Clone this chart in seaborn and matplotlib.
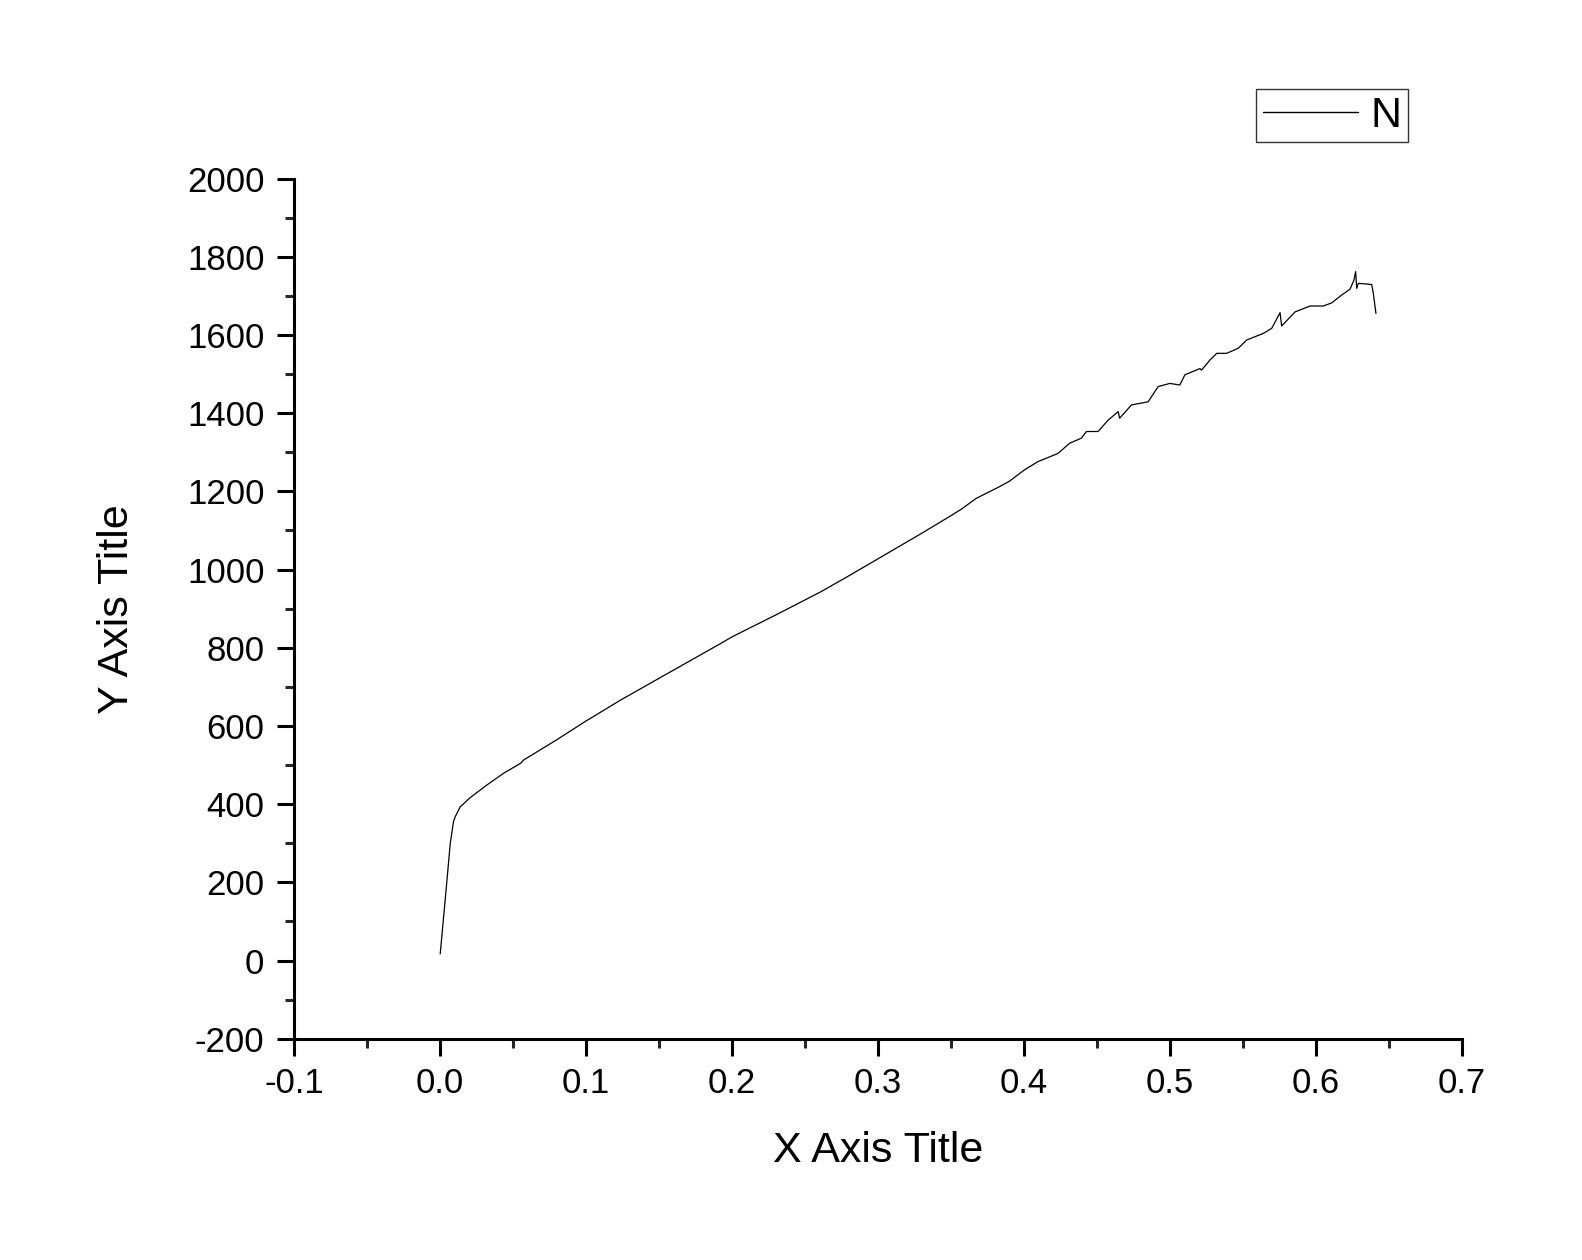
import numpy as np
import pandas as pd
import seaborn as sns
import matplotlib
matplotlib.use("Agg")
import matplotlib.pyplot as plt
from matplotlib.ticker import MultipleLocator, FuncFormatter

# strain / load values
x_vals = [0.0, 0.0034, 0.0069, 0.0091, 0.0103, 0.0137, 0.0206, 0.032, 0.0434,
          0.0549, 0.0572, 0.08, 0.0992, 0.1235, 0.15, 0.1922, 0.2, 0.23, 0.2607,
          0.28, 0.3066, 0.33, 0.35, 0.3569, 0.3672, 0.3832, 0.39, 0.4003, 0.4095,
          0.4233, 0.4312, 0.4393, 0.4427, 0.4507, 0.4576, 0.4645, 0.4655, 0.4736,
          0.485, 0.4919, 0.4999, 0.5067, 0.5102, 0.5205, 0.5216, 0.5274, 0.5285,
          0.532, 0.5388, 0.5468, 0.5525, 0.564, 0.5697, 0.5754, 0.5765, 0.5857,
          0.596, 0.605, 0.6108, 0.6176, 0.6233, 0.626, 0.6272, 0.6279, 0.629,
          0.6382, 0.6393, 0.6411]
y_vals = [17, 155, 300, 355, 368, 393, 417, 449, 479,
          504, 513, 565, 611, 666, 722, 811, 828, 884, 943,
          984, 1042, 1093, 1138, 1154, 1182, 1212, 1226, 1255, 1276,
          1297, 1323, 1336, 1353, 1353, 1382, 1404, 1387, 1421,
          1429, 1468, 1476, 1472, 1498, 1514, 1510, 1536, 1540,
          1553, 1553, 1566, 1587, 1604, 1617, 1657, 1623, 1659,
          1674, 1674, 1682, 1702, 1717, 1740, 1762, 1719, 1732,
          1729, 1706, 1655]
series_name = "N"

df = pd.DataFrame({"x": x_vals, "y": y_vals})

sns.set_style("ticks")
plt.rcParams["font.family"] = ["Liberation Sans", "DejaVu Sans"]
plt.rcParams["axes.unicode_minus"] = False

fig = plt.figure(figsize=(15.82, 12.6), dpi=100)
ax = fig.add_axes([0.186, 0.1756, 0.7381, 0.6827])

sns.lineplot(data=df, x="x", y="y", sort=False, estimator=None,
             color="black", linewidth=0.9, label=series_name, ax=ax)

ax.set_xlim(-0.1, 0.7)
ax.set_ylim(-200, 2000)
ax.xaxis.set_major_locator(MultipleLocator(0.1))
ax.xaxis.set_minor_locator(MultipleLocator(0.05))
ax.yaxis.set_major_locator(MultipleLocator(200))
ax.yaxis.set_minor_locator(MultipleLocator(100))
ax.xaxis.set_major_formatter(FuncFormatter(lambda v, p: f"{v:.1f}".replace("-0.0", "0.0")))
ax.yaxis.set_major_formatter(FuncFormatter(lambda v, p: f"{v:.0f}"))

for s in ["top", "right"]:
    ax.spines[s].set_visible(False)
for s in ["left", "bottom"]:
    ax.spines[s].set_linewidth(2.2)
    ax.spines[s].set_color("black")

ax.tick_params(which="major", length=12.5, width=2.2, labelsize=25,
               direction="out", pad=8, colors="black")
ax.tick_params(axis="y", which="major", pad=9)
ax.tick_params(which="minor", length=6.5, width=2.2, direction="out")

ax.set_xlabel("X Axis Title", fontsize=31, labelpad=22, color="black")
ax.set_ylabel("Y Axis Title", fontsize=31, labelpad=36, color="black")

leg = ax.legend(loc="upper right", bbox_to_anchor=(0.890, 0.929),
                bbox_transform=fig.transFigure, fontsize=31, frameon=True,
                fancybox=False, edgecolor="black", handlelength=2.2,
                borderpad=0.15, handletextpad=0.3, borderaxespad=0)
leg.get_frame().set_linewidth(1.0)
for line in leg.get_lines():
    line.set_linewidth(1.0)
for t in leg.get_texts():
    t.set_color("black")

fig.savefig("out.png", dpi=100, facecolor="white")
